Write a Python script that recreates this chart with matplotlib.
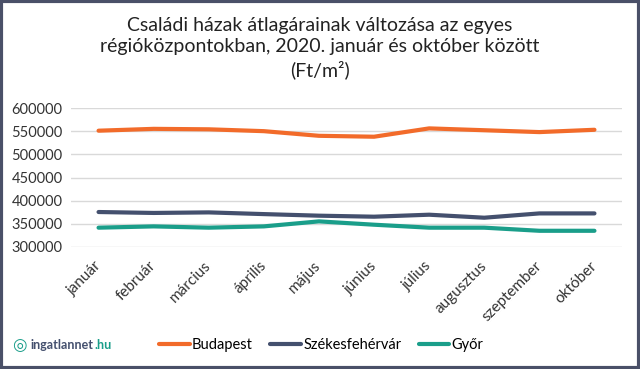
import numpy as np
import matplotlib.pyplot as plt
from matplotlib.patches import Rectangle

plt.rcParams['font.family'] = ['Lato', 'DejaVu Sans']

months = ['január', 'február', 'március', 'április', 'május', 'június',
          'július', 'augusztus', 'szeptember', 'október']
budapest = [551000, 555000, 554000, 550000, 540000, 538000, 556000, 552000, 548000, 553000]
szekesfehervar = [375500, 373500, 374700, 371000, 367600, 365400, 369700, 363200, 372500, 372500]
gyor = [341700, 344500, 341700, 344500, 355300, 348100, 341700, 341700, 335000, 335000]
yticks = [300000, 350000, 400000, 450000, 500000, 550000, 600000]

fig = plt.figure(figsize=(6.4, 3.69), dpi=100)
ax = fig.add_axes([71/640, 1-247/369, 551/640, 139/369])

x = np.arange(len(months))
ax.plot(x, budapest, color='#F26B2A', lw=3, label='Budapest', solid_capstyle='round')
ax.plot(x, szekesfehervar, color='#44506E', lw=3, label='Székesfehérvár', solid_capstyle='round')
ax.plot(x, gyor, color='#1A9E8A', lw=3, label='Győr', solid_capstyle='round')

ax.set_xlim(-0.5, len(months)-0.5)
ax.set_ylim(300000, 600000)
ax.set_yticks(yticks)
ax.set_yticklabels([str(v) for v in yticks], fontsize=10.5, color='#333333')
ax.set_xticks(x)
ax.set_xticklabels(months, rotation=45, ha='right', va='center', rotation_mode='anchor',
                   fontsize=11, color='#333333')
ax.tick_params(length=0, pad=6)
ax.tick_params(axis='x', pad=12)
ax.grid(axis='y', color='#d9d9d9', lw=1)
ax.set_axisbelow(True)
for s in ax.spines.values():
    s.set_visible(False)

fig.text(0.5, 1-17/369, 'Családi házak átlagárainak változása az egyes\nrégióközpontokban, 2020. január és október között\n(Ft/m²)',
         ha='center', va='top', fontsize=14, color='#222222', linespacing=1.32)

fig.legend(loc='center', bbox_to_anchor=(0.502, 1-345/369), ncol=3, frameon=False,
           fontsize=10.5, handlelength=2.1, handletextpad=0.15, columnspacing=1.2)

fig.text(19/640, 1-345/369, '◎', ha='center', va='center', fontsize=12, color='#1A9E8A')
t = fig.text(31/640, 1-345/369, 'ingatlannet', ha='left', va='center', fontsize=9,
             color='#44506E', weight='bold')
fig.canvas.draw()
bb = t.get_window_extent()
fig.text(bb.x1/640, 1-345/369, '.hu', ha='left', va='center', fontsize=9,
         color='#1A9E8A', weight='bold')

fig.patches.append(Rectangle((0.002, 0.003), 0.996, 0.994, transform=fig.transFigure,
                             fill=False, edgecolor='#4a5068', lw=3))

fig.savefig('out.png', dpi=100)
